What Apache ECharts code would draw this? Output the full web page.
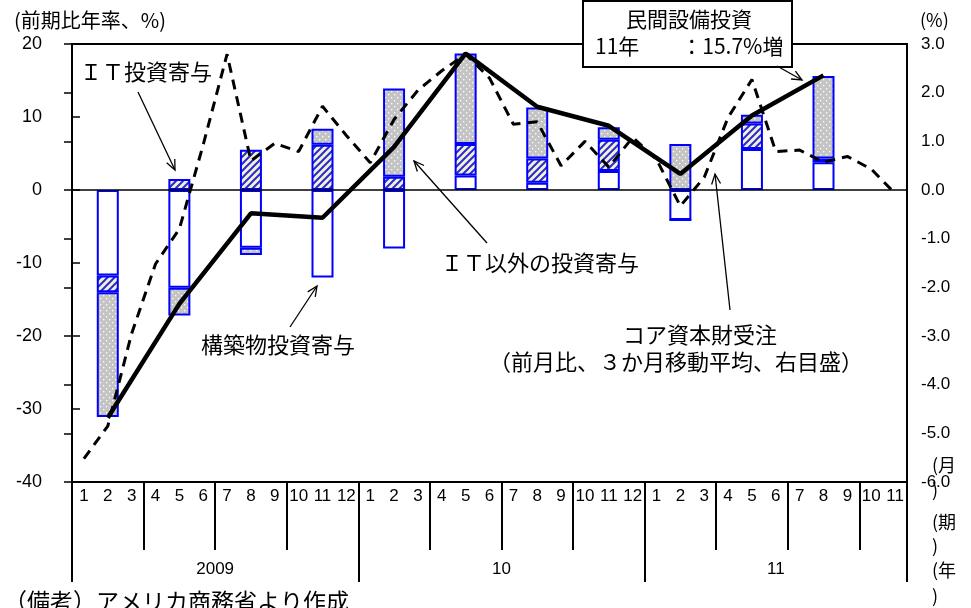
<!DOCTYPE html>
<html><head><meta charset="utf-8">
<script src="https://cdn.jsdelivr.net/npm/echarts@6/dist/echarts.min.js"></script>
<style>html,body{margin:0;padding:0;background:#fff}#c{width:971px;height:608px}</style>
</head><body><div id="c"></div>
<script>
// ---- data ----
const months2009 = ['1','2','3','4','5','6','7','8','9','10','11','12'];
const months2010 = ['1','2','3','4','5','6','7','8','9','10','11','12'];
const months2011 = ['1','2','3','4','5','6','7','8','9','10','11'];
const yearLabels = ['2009','10','11'];
// quarterly contributions (%, annualised q/q), 2009Q1 .. 2011Q3
const structures = [-11.7,-13.4,-7.9,-12.0,-8.0,2.0,1.0,2.6,-4.1,5.6,3.8];
const itInvest   = [-2.3, 1.5, 5.5, 6.2, 1.8, 4.3, 3.3, 4.3, 0.0, 3.5, 0.5];
const nonIt      = [-17.1,-3.8,-1.0, 2.2,12.1,12.4, 7.0, 1.7, 6.3, 1.2,11.3];
const privateInvest = [-31.2,-15.6,-3.2,-3.8,5.9,18.7,11.4,8.8,2.2,10.2,15.7];
// core capital goods orders (m/m, 3-month moving average), Jan 2009 .. Nov 2011
const coreOrders = [-5.52,-4.85,-2.95,-1.52,-0.80,0.93,2.79,0.60,0.96,0.79,1.72,1.12,
                    0.56,1.45,2.05,2.45,2.79,2.30,1.35,1.40,0.50,1.00,0.47,1.08,
                    0.63,-0.33,0.26,1.49,2.27,0.79,0.82,0.57,0.69,0.43,-0.07];

// ---- build ----
const months = months2009.concat(months2010, months2011);
const N = months.length;
function quarterly(arr){ const out = new Array(N).fill(null); arr.forEach((v,q)=>{ out[1+3*q] = v; }); return out; }
const yearLens = [months2009.length, months2010.length, months2011.length];
const yearBounds = [0]; yearLens.forEach(l=>yearBounds.push(yearBounds[yearBounds.length-1]+l));
const yearCenters = yearLens.map((l,i)=>yearBounds[i]+l/2);
const quarterBounds = []; for(let i=3;i<N;i+=3){ if(yearBounds.indexOf(i)<0) quarterBounds.push(i); }

function dotPattern(){
  const c=document.createElement('canvas'); c.width=6; c.height=6; const g=c.getContext('2d');
  g.fillStyle='#c4c4c4'; g.fillRect(0,0,6,6); g.fillStyle='#ffffff';
  g.fillRect(1,1,1.3,1.3); g.fillRect(4,4,1.3,1.3); return c;
}
function hatchPattern(){
  const c=document.createElement('canvas'); c.width=7; c.height=7; const g=c.getContext('2d');
  g.fillStyle='#f2f2d2'; g.fillRect(0,0,7,7); g.strokeStyle='#2a2ad0'; g.lineWidth=2;
  g.beginPath(); g.moveTo(-1,8); g.lineTo(8,-1); g.moveTo(-4.5,4.5); g.lineTo(4.5,-4.5); g.moveTo(2.5,11.5); g.lineTo(11.5,2.5); g.stroke(); return c;
}

const chart = echarts.init(document.getElementById('c'), null, {renderer:'canvas'});
const CJK = '"Noto Sans CJK JP", sans-serif';
const LAT = '"Liberation Sans", Arial, sans-serif';
function arrow(x1,y1,x2,y2){
  const a=Math.atan2(y2-y1,x2-x1), L=11, w=0.42;
  return [
    {type:'line', z:100, shape:{x1,y1,x2,y2}, style:{stroke:'#000', lineWidth:1.3}},
    {type:'polyline', z:100, shape:{points:[[x2-L*Math.cos(a-w), y2-L*Math.sin(a-w)],[x2,y2],[x2-L*Math.cos(a+w), y2-L*Math.sin(a+w)]]}, style:{stroke:'#000', lineWidth:1.3, fill:null}}
  ];
}
function txt(x,y,t,size,align,fam){ return {type:'text', z:101, x, y, style:{text:t, fontSize:size, fontFamily:fam||CJK, fill:'#000', align:align||'left', verticalAlign:'middle'}}; }

const barBorder = {borderColor:'#0000ff', borderWidth:2};
const option = {
  animation:false,
  backgroundColor:'#fff',
  grid:{left:72, right:64, top:44, bottom:126, show:true, borderColor:'#000', borderWidth:2, backgroundColor:'transparent'},
  xAxis:[
    {type:'category', data:months, boundaryGap:true, position:'bottom',
     axisLine:{show:true, onZero:false, lineStyle:{color:'#000', width:2}}, axisTick:{show:false},
     axisLabel:{interval:0, margin:6, fontSize:17, color:'#000', fontFamily:LAT}},
    {type:'value', min:0, max:N, position:'bottom', offset:0, axisLine:{show:false, onZero:false}, splitLine:{show:false},
     axisLabel:{show:false}, axisTick:{show:true, customValues:quarterBounds, length:68, lineStyle:{color:'#000', width:2}}},
    {type:'value', min:0, max:N, position:'bottom', offset:0, axisLine:{show:false, onZero:false}, splitLine:{show:false},
     axisTick:{show:true, customValues:yearBounds, length:100, lineStyle:{color:'#000', width:2}},
     axisLabel:{show:true, customValues:yearCenters, margin:79, fontSize:17, color:'#000', fontFamily:LAT,
       formatter:(v)=>{ const i=yearCenters.indexOf(v); return i>=0?yearLabels[i]:''; }}}
  ],
  yAxis:[
    {type:'value', min:-40, max:20, interval:10, position:'left',
     axisLine:{show:true, lineStyle:{color:'#000', width:2}}, axisTick:{show:true, inside:true, length:8, lineStyle:{color:'#000', width:1.5}},
     splitLine:{show:false}, axisLabel:{margin:30, fontSize:18, color:'#000', fontFamily:LAT}},
    {type:'value', min:-6, max:3, interval:1, position:'right',
     axisLine:{show:true, lineStyle:{color:'#000', width:2}}, axisTick:{show:true, inside:true, length:8, lineStyle:{color:'#000', width:1.5}},
     splitLine:{show:false}, axisLabel:{margin:14, fontSize:17, color:'#000', fontFamily:LAT, formatter:(v)=>v.toFixed(1)}}
  ],
  series:[
    {name:'構築物投資寄与', type:'bar', stack:'inv', data:quarterly(structures), barWidth:22, z:2,
     itemStyle:Object.assign({color:'#ffffff'}, barBorder),
     markLine:{silent:true, symbol:['none','none'], label:{show:false}, lineStyle:{color:'#000', width:1.5, type:'solid'}, data:[{yAxis:0}]}},
    {name:'ＩＴ投資寄与', type:'bar', stack:'inv', data:quarterly(itInvest), barWidth:22, z:2,
     itemStyle:Object.assign({color:{image:hatchPattern(), repeat:'repeat'}}, barBorder)},
    {name:'ＩＴ以外の投資寄与', type:'bar', stack:'inv', data:quarterly(nonIt), barWidth:22, z:2,
     itemStyle:Object.assign({color:{image:dotPattern(), repeat:'repeat'}}, barBorder)},
    {name:'コア資本財受注', type:'line', yAxisIndex:1, data:coreOrders, symbol:'none', z:4,
     lineStyle:{color:'#000', width:3, type:[10,7]}},
    {name:'民間設備投資', type:'line', data:quarterly(privateInvest), connectNulls:true, symbol:'none', z:5,
     lineStyle:{color:'#000', width:4.5}}
  ],
  graphic:[].concat(
    [txt(14,20,'(前期比年率、%)',20,'left')],
    [txt(920,20,'(%)',18,'left')],
    [{type:'rect', z:100, shape:{x:583,y:1,width:209,height:66}, style:{fill:'#fff', stroke:'#000', lineWidth:2}}],
    [txt(689,19,'民間設備投資',21,'center'), txt(595,46,'11年　　：15.7%増',21,'left')],
    arrow(777,66,802,80),
    [txt(80,72,'ＩＴ投資寄与',22,'left')], arrow(138,92,175,170),
    [txt(441,263,'ＩＴ以外の投資寄与',22,'left')], arrow(487,243,414,161),
    [txt(201,345,'構築物投資寄与',22,'left')], arrow(290,327,317,286),
    [txt(700,335,'コア資本財受注',22,'center'), txt(676,362,'（前月比、３か月移動平均、右目盛）',22,'center')], arrow(730,310,715,174),
    [txt(932,465,'(月',18,'left'), txt(932,490,')',18,'left'), txt(932,522,'(期',18,'left'), txt(932,546,')',18,'left'), txt(932,570,'(年',18,'left'), txt(932,596,')',18,'left')],
    [txt(4,601,'（備考）アメリカ商務省より作成',23,'left')]
  )
};
chart.setOption(option);
</script>
</body></html>
